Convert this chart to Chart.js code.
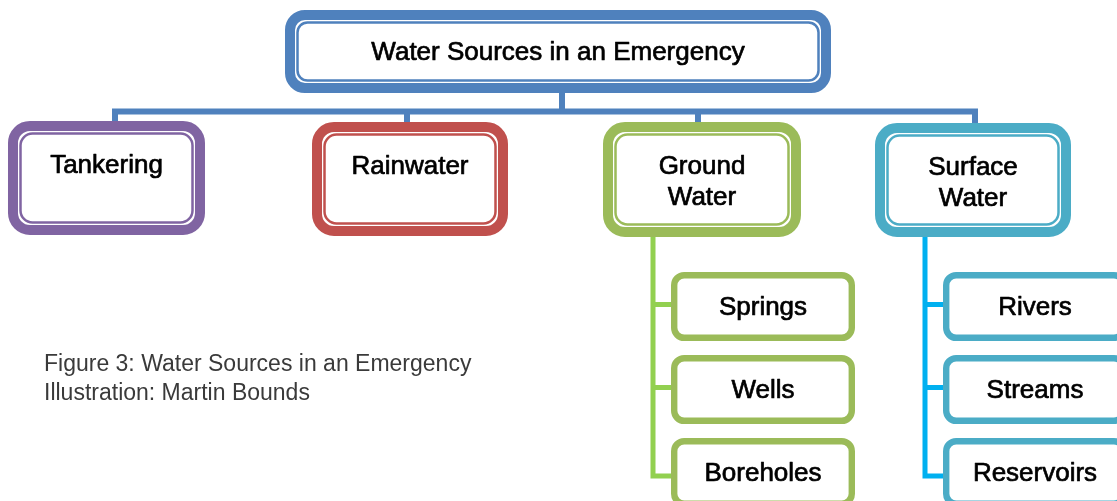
<!DOCTYPE html>
<html>
<head>
<meta charset="utf-8">
<script src="https://cdn.jsdelivr.net/npm/chart.js@4/dist/chart.umd.min.js"></script>
<style>
  html, body { margin: 0; padding: 0; background: #ffffff; }
  #wrap { width: 1117px; height: 501px; }
</style>
</head>
<body>
<div id="wrap"><canvas id="diagram" width="1117" height="501"></canvas></div>
<script>
// tree content
const nodeLabels = [
  'Water Sources in an Emergency',
  'Tankering', 'Rainwater', 'Ground\nWater', 'Surface\nWater',
  'Springs', 'Wells', 'Boreholes',
  'Rivers', 'Streams', 'Reservoirs',
];
const nodeParents = [-1, 0, 0, 0, 0, 3, 3, 3, 4, 4, 4];
const captionLines = ['Figure 3: Water Sources in an Emergency', 'Illustration: Martin Bounds'];

// layout, in axis units: [left, top, right, bottom]
const layout = {
  boxes: [
    [285, 10, 831, 93],
    [8, 121, 205, 235],
    [312, 122, 508, 236],
    [603, 122, 801, 237],
    [875, 123, 1071, 237],
    [671, 272, 855, 341],
    [671, 355, 855, 424],
    [671, 438, 855, 507],
    [943, 272, 1127, 341],
    [943, 355, 1127, 424],
    [943, 438, 1127, 507],
  ],
  busY: 111.5,
  stemX: [562, 115, 407, 698, 975],
  spineX: { 3: 653, 4: 925 },
  captionX: 44,
  captionY: [371, 400],
};

const palette = {
  node: ['#4F81BD', '#8064A2', '#C0504D', '#9BBB59', '#4BACC6',
         '#9BBB59', '#9BBB59', '#9BBB59', '#4BACC6', '#4BACC6', '#4BACC6'],
  bus: '#4F81BD',
  spine: { 3: '#92D050', 4: '#00B0F0' },
  text: '#000000',
  caption: '#3a3a3a',
};

const FONT = '"Liberation Sans", Arial, sans-serif';

const levels = nodeParents.map(function lvl(p, i) {
  return p < 0 ? 0 : 1 + lvl(nodeParents[p], p);
});

const diagramPlugin = {
  id: 'diagram',
  afterDraw(chart) {
    const { ctx } = chart;
    const xs = chart.scales.x;
    const ys = chart.scales.y;
    const px = (v) => xs.getPixelForValue(v);
    const py = (v) => ys.getPixelForValue(v);
    const box = (i) => {
      const [l, t, r, b] = layout.boxes[i];
      return { l: px(l), t: py(t), r: px(r), b: py(b) };
    };
    const children = (p) => nodeParents.map((q, i) => (q === p ? i : -1)).filter((i) => i >= 0);

    ctx.save();
    ctx.lineCap = 'butt';
    ctx.lineJoin = 'miter';

    // blue bus from the root to the first level
    const top = children(0);
    const busY = py(layout.busY);
    ctx.strokeStyle = palette.bus;
    ctx.lineWidth = 6;
    ctx.beginPath();
    const first = top[0];
    const last = top[top.length - 1];
    ctx.moveTo(px(layout.stemX[first]), box(first).t + 4);
    ctx.lineTo(px(layout.stemX[first]), busY);
    ctx.lineTo(px(layout.stemX[last]), busY);
    ctx.lineTo(px(layout.stemX[last]), box(last).t + 4);
    top.slice(1, -1).forEach((c) => {
      ctx.moveTo(px(layout.stemX[c]), busY);
      ctx.lineTo(px(layout.stemX[c]), box(c).t + 4);
    });
    ctx.moveTo(px(layout.stemX[0]), box(0).b - 4);
    ctx.lineTo(px(layout.stemX[0]), busY);
    ctx.stroke();

    // side spines for the third level
    Object.keys(layout.spineX).forEach((key) => {
      const p = Number(key);
      const kids = children(p);
      const sx = px(layout.spineX[p]);
      ctx.strokeStyle = palette.spine[p];
      ctx.lineWidth = 5;
      ctx.beginPath();
      const lb = box(kids[kids.length - 1]);
      const lastY = lb.t + 38;
      ctx.moveTo(sx, box(p).b - 4);
      ctx.lineTo(sx, lastY);
      ctx.lineTo(lb.l + 3, lastY);
      kids.slice(0, -1).forEach((c) => {
        const b = box(c);
        const cy = (b.t + b.b) / 2 - 2;
        ctx.moveTo(sx, cy);
        ctx.lineTo(b.l + 3, cy);
      });
      ctx.stroke();
    });

    // boxes
    nodeLabels.forEach((label, i) => {
      const b = box(i);
      const color = palette.node[i];
      const w = b.r - b.l;
      const h = b.b - b.t;
      if (levels[i] < 2) {
        const outerR = levels[i] === 0 ? 20 : 22;
        ctx.fillStyle = '#ffffff';
        ctx.beginPath();
        ctx.roundRect(b.l + 5, b.t + 5, w - 10, h - 10, outerR - 5);
        ctx.fill();
        ctx.strokeStyle = color;
        ctx.lineWidth = 10;
        ctx.stroke();
        ctx.lineWidth = 2.5;
        ctx.beginPath();
        ctx.roundRect(b.l + 12.5, b.t + 12.5, w - 25, h - 25, outerR - 10);
        ctx.stroke();
      } else {
        ctx.fillStyle = '#ffffff';
        ctx.beginPath();
        ctx.roundRect(b.l + 3.2, b.t + 3.2, w - 6.4, h - 6.4, 10);
        ctx.fill();
        ctx.strokeStyle = color;
        ctx.lineWidth = 6.4;
        ctx.stroke();
      }

      // label text, positioned by cap-height centre, lightly stroked for weight
      const size = 26;
      ctx.font = size + 'px ' + FONT;
      ctx.fillStyle = palette.text;
      ctx.strokeStyle = palette.text;
      ctx.lineWidth = 0.7;
      ctx.lineJoin = 'round';
      ctx.textAlign = 'center';
      ctx.textBaseline = 'alphabetic';
      const lines = label.split('\n');
      const cx = (b.l + b.r) / 2;
      let firstY;
      if (levels[i] === 1) firstY = b.t + 43;
      else firstY = (b.t + b.b) / 2 - 1;
      lines.forEach((line, k) => {
        const ty = firstY + k * 31 + size * 0.358;
        ctx.fillText(line, cx, ty);
        ctx.strokeText(line, cx, ty);
      });
      ctx.lineJoin = 'miter';
    });

    // caption
    ctx.font = '23px ' + FONT;
    ctx.fillStyle = palette.caption;
    ctx.textAlign = 'left';
    ctx.textBaseline = 'alphabetic';
    captionLines.forEach((line, k) => {
      ctx.fillText(line, px(layout.captionX), py(layout.captionY[k]));
    });
    ctx.restore();
  },
};

new Chart(document.getElementById('diagram'), {
  type: 'scatter',
  data: { datasets: [{ data: [], pointRadius: 0 }] },
  options: {
    responsive: false,
    maintainAspectRatio: false,
    animation: false,
    events: [],
    layout: { padding: 0 },
    plugins: { legend: { display: false }, tooltip: { enabled: false } },
    scales: {
      x: { type: 'linear', min: 0, max: 1117, display: false },
      y: { type: 'linear', min: 0, max: 501, reverse: true, display: false },
    },
  },
  plugins: [diagramPlugin],
});
</script>
</body>
</html>
